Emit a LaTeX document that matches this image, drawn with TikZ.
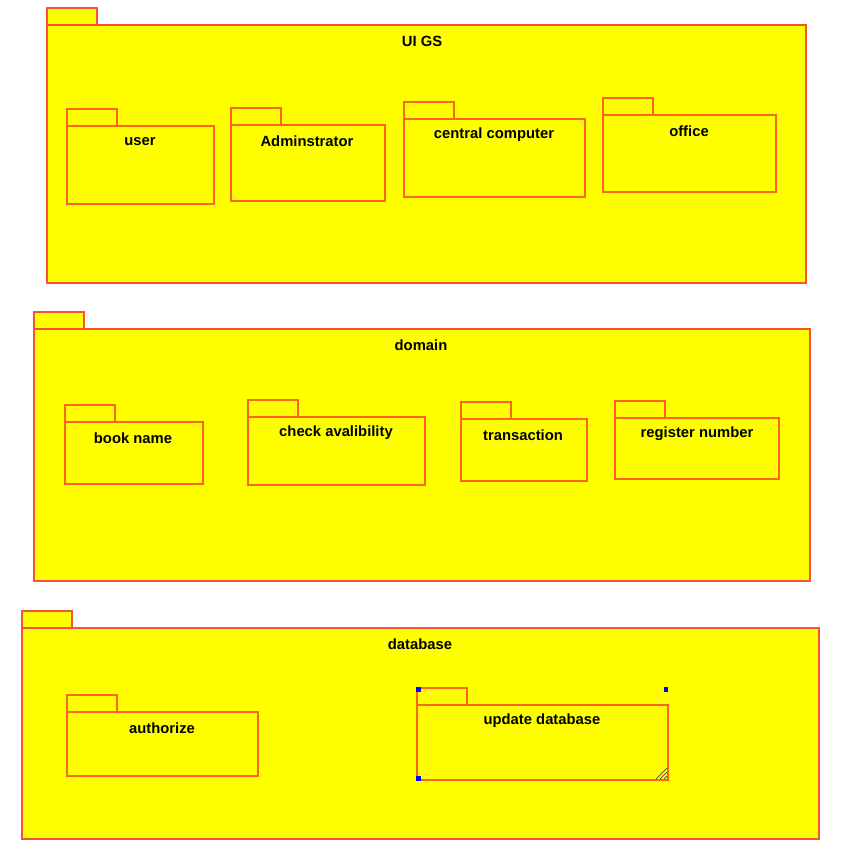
\documentclass[tikz,border=0pt]{standalone}
\usepackage{fontspec}
\setmainfont{Liberation Sans}
\definecolor{pkgfill}{RGB}{255,255,0}
\definecolor{outerred}{RGB}{245,85,50}
\definecolor{innerorange}{RGB}{255,100,20}
\begin{document}
\begin{tikzpicture}[x=1pt,y=-1pt,
  outerline/.style={draw=outerred, line width=1.3pt, fill=pkgfill},
  innerline/.style={draw=innerorange, line width=1.3pt, fill=pkgfill},
  pkgtitle/.style={font=\fontsize{14.8}{16}\selectfont\bfseries, anchor=center, inner sep=0pt},
  handle/.style={fill=blue, draw=none, minimum size=4.5pt, inner sep=0pt}]
\useasboundingbox (0,0) rectangle (849,843);

% package helper: tab + body
\newcommand{\pkg}[6]{% style, x1, y1 (tab top), x2, y2 (body bottom), name
  \draw[#1] (#2,#3) rectangle (#2+50,#3+17);
  \draw[#1] (#2,#3+17) rectangle (#4,#5);
}

% outer packages
\pkg{outerline}{47}{8}{806}{283}{uigs}
\node[pkgtitle] (uigs) at (422,41) {UI GS};
\pkg{outerline}{34}{312}{810}{581}{domain}
\node[pkgtitle] (domain) at (421,345) {domain};
\pkg{outerline}{22}{611}{819}{839}{database}
\node[pkgtitle] (database) at (420,644) {database};

% UI GS contents
\pkg{innerline}{67}{109}{214}{204}{user}
\node[pkgtitle] (user) at (140,142) {user};
\pkg{innerline}{231}{108}{385}{201}{admin}
\node[pkgtitle] (admin) at (307,141) {Adminstrator};
\pkg{innerline}{404}{102}{585}{197}{central}
\node[pkgtitle] (central) at (494,135) {central computer};
\pkg{innerline}{603}{98}{776}{192}{office}
\node[pkgtitle] (office) at (689,131) {office};

% domain contents
\pkg{innerline}{65}{405}{203}{484}{book}
\node[pkgtitle] (book) at (133,438) {book name};
\pkg{innerline}{248}{400}{425}{485}{check}
\node[pkgtitle] (check) at (336,433) {check avalibility};
\pkg{innerline}{461}{402}{587}{481}{trans}
\node[pkgtitle] (trans) at (523,435) {transaction};
\pkg{innerline}{615}{401}{779}{479}{reg}
\node[pkgtitle] (reg) at (697,434) {register number};

% database contents
\pkg{innerline}{67}{695}{258}{776}{auth}
\node[pkgtitle] (auth) at (162,728) {authorize};
\pkg{innerline}{417}{688}{668}{780}{update}
\node[pkgtitle] (update) at (542,721) {update database};

% selection handles and resize grip on the selected package
\node[handle] (h1) at (418.5,689.5) {};
\node[handle] (h2) at (666,689.5) {};
\node[handle] (h3) at (418.5,778.5) {};
\foreach \d in {0,4,8}
  \draw[line width=0.7pt, black!70] (656+\d,779) -- (667,768+\d);
\end{tikzpicture}
\end{document}
